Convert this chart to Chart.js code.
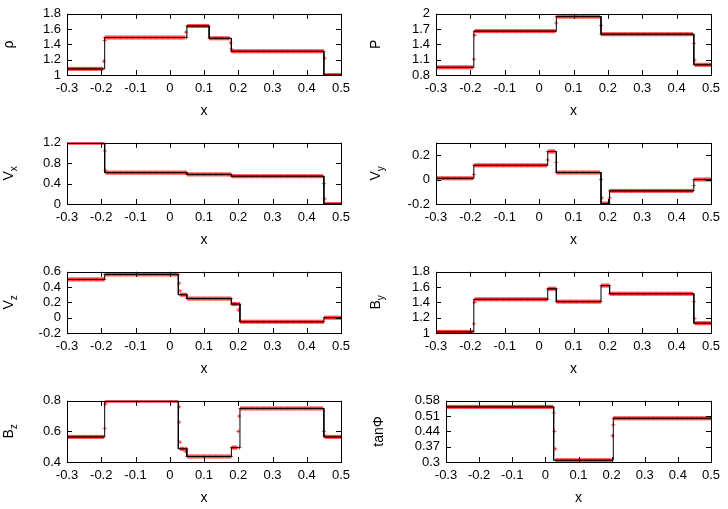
<!DOCTYPE html>
<html>
<head>
<meta charset="utf-8">
<script src="https://cdn.jsdelivr.net/npm/chart.js@4.4.0/dist/chart.umd.min.js"></script>
<style>
  html, body { margin: 0; padding: 0; background: #fff; overflow: hidden; }
  #wrap { position: relative; width: 728px; height: 509px; }
  #wrap canvas { position: absolute; }
</style>
</head>
<body>
<div id="wrap"></div>
<script>
// x axis shared by all panels
const X_MIN = -0.3, X_MAX = 0.5;
const X_TICKS = [-0.3, -0.2, -0.1, 0, 0.1, 0.2, 0.3, 0.4, 0.5];

// wave positions (fast, rotational, slow, contact, slow, rotational, fast)
const WAVES = [-0.19, 0.025, 0.05, 0.115, 0.18, 0.205, 0.45];

// plateau levels between the waves (8 regions, left to right)
const RHO  = [1.08, 1.49, 1.49, 1.64, 1.48, 1.31, 1.31, 1.0];
const PRES = [0.95, 1.66, 1.66, 1.945, 1.945, 1.60, 1.60, 1.0];
const VX   = [1.2, 0.615, 0.615, 0.58, 0.58, 0.545, 0.545, 0.0];
const VY   = [0.01, 0.116, 0.229, 0.057, 0.057, -0.196, -0.093, 0.0];
const VZ   = [0.5, 0.566, 0.30, 0.25, 0.25, 0.178, -0.053, 0.0];
const BY   = [1.015, 1.44, 1.578, 1.41, 1.41, 1.62, 1.513, 1.128];
const BZ   = [0.564, 0.8, 0.486, 0.436, 0.436, 0.494, 0.75, 0.564];
const TANPHI = [0.552, 0.552, 0.308, 0.308, 0.308, 0.308, 0.50, 0.50];

// numerical points sitting inside the jumps
const RHO_EDGE  = [[-0.1925, 1.18], [-0.19, 1.45], [0.0475, 1.56], [0.1775, 1.42], [0.18, 1.34], [0.4525, 1.22]];
const PRES_EDGE = [[-0.19, 1.11], [-0.1875, 1.58], [0.05, 1.82], [0.18, 1.77], [0.45, 1.42], [0.4525, 1.09]];
const VX_EDGE   = [[-0.19, 1.04], [-0.1875, 0.66], [0.45, 0.40], [0.4525, 0.10]];
const VY_EDGE   = [[-0.19, 0.04], [0.025, 0.16], [0.05, 0.14], [0.18, 0.0], [0.1825, -0.15], [0.205, -0.15], [0.45, -0.05]];
const VZ_EDGE   = [[0.0275, 0.45], [0.03, 0.35], [0.2, 0.1], [0.4525, 0.0]];
const BY_EDGE   = [[-0.19, 1.12], [-0.1875, 1.40], [0.45, 1.41], [0.4525, 1.19]];
const BZ_EDGE   = [[-0.19, 0.62], [-0.1875, 0.78], [0.0275, 0.76], [0.0275, 0.66], [0.03, 0.53], [0.045, 0.47],
                   [0.2, 0.6], [0.2025, 0.7], [0.45, 0.6], [0.4525, 0.57]];
const TANPHI_EDGE = [[0.025, 0.525], [0.0275, 0.44], [0.03, 0.36], [0.2025, 0.42], [0.205, 0.47]];

// cell spacing of the simulation grid
const CELL_DX = 0.0025;

const FONT = '"Liberation Sans", Arial, Helvetica, sans-serif';

const PANELS = [
  { main: 'ρ', sub: '', lv: RHO, edge: RHO_EDGE, min: 1, max: 1.8, ticks: [1, 1.2, 1.4, 1.6, 1.8] },
  { main: 'P', sub: '', lv: PRES, edge: PRES_EDGE, min: 0.8, max: 2, ticks: [0.8, 1.1, 1.4, 1.7, 2] },
  { main: 'V', sub: 'x', lv: VX, edge: VX_EDGE, min: 0, max: 1.2, ticks: [0, 0.4, 0.8, 1.2] },
  { main: 'V', sub: 'y', lv: VY, edge: VY_EDGE, min: -0.2, max: 0.3, ticks: [-0.2, 0, 0.2] },
  { main: 'V', sub: 'z', lv: VZ, edge: VZ_EDGE, min: -0.2, max: 0.6, ticks: [-0.2, 0, 0.2, 0.4, 0.6] },
  { main: 'B', sub: 'y', lv: BY, edge: BY_EDGE, min: 1, max: 1.8, ticks: [1, 1.2, 1.4, 1.6, 1.8] },
  { main: 'B', sub: 'z', lv: BZ, edge: BZ_EDGE, min: 0.4, max: 0.8, ticks: [0.4, 0.6, 0.8] },
  { main: 'tanΦ', sub: '', lv: TANPHI, edge: TANPHI_EDGE, min: 0.3, max: 0.58, ticks: [0.3, 0.37, 0.44, 0.51, 0.58] }
];

function regionOf(x){ let i = 0; while(i < WAVES.length && x > WAVES[i]) i++; return i; }

// exact solution as a step line through the plateau levels
function exactLine(lv){
  const pts = [{x: X_MIN, y: lv[0]}];
  WAVES.forEach((w, i) => { pts.push({x: w, y: lv[i]}); pts.push({x: w, y: lv[i+1]}); });
  pts.push({x: X_MAX, y: lv[lv.length-1]});
  return pts;
}

// numerical solution: plateau value at each cell, plus the points inside jumps
function cellPoints(lv, edge){
  const pts = [];
  for(let x = X_MIN + CELL_DX/2; x < X_MAX; x += CELL_DX){
    const near = edge.some(e => Math.abs(e[0] - x) < CELL_DX/2);
    if(!near) pts.push({x, y: lv[regionOf(x)]});
  }
  edge.forEach(e => pts.push({x: e[0], y: e[1]}));
  return pts;
}

const framePlugin = {
  id: 'frame',
  afterDatasetsDraw(chart){
    const {ctx, chartArea: a, scales} = chart;
    ctx.save();
    ctx.strokeStyle = '#000'; ctx.lineWidth = 1;
    ctx.strokeRect(Math.round(a.left)+0.5, Math.round(a.top)+0.5, Math.round(a.right-a.left), Math.round(a.bottom-a.top));
    const L = 5;
    ctx.beginPath();
    scales.x.ticks.forEach(t => {
      const px = Math.round(scales.x.getPixelForValue(t.value)) + 0.5;
      ctx.moveTo(px, a.bottom); ctx.lineTo(px, a.bottom - L);
      ctx.moveTo(px, a.top); ctx.lineTo(px, a.top + L);
    });
    scales.y.ticks.forEach(t => {
      const py = Math.round(scales.y.getPixelForValue(t.value)) + 0.5;
      ctx.moveTo(a.left, py); ctx.lineTo(a.left + L, py);
      ctx.moveTo(a.right, py); ctx.lineTo(a.right - L, py);
    });
    ctx.stroke();
    ctx.restore();
  },
  afterDraw(chart, args, o){
    const {ctx, chartArea: a} = chart;
    ctx.save();
    ctx.fillStyle = '#000';
    // x title
    ctx.font = '14px ' + FONT;
    ctx.textAlign = 'center'; ctx.textBaseline = 'middle';
    ctx.fillText('x', (a.left + a.right)/2, a.bottom + 36);
    // y title, rotated, with subscript
    ctx.translate(o.tx, (a.top + a.bottom)/2);
    ctx.rotate(-Math.PI/2);
    ctx.textAlign = 'left';
    ctx.font = '14px ' + FONT;
    const w1 = ctx.measureText(o.main).width;
    ctx.font = '10px ' + FONT;
    const w2 = o.sub ? ctx.measureText(o.sub).width : 0;
    const x0 = -(w1 + w2)/2;
    ctx.font = '14px ' + FONT;
    ctx.fillText(o.main, x0, 0);
    if(o.sub){ ctx.font = '10px ' + FONT; ctx.fillText(o.sub, x0 + w1, 5); }
    ctx.restore();
  }
};

const wrap = document.getElementById('wrap');
PANELS.forEach((p, k) => {
  const col = k % 2, row = Math.floor(k / 2);
  const cv = document.createElement('canvas');
  cv.style.left = (col * 364) + 'px';
  cv.style.top = (row * 129) + 'px';
  cv.style.width = '364px'; cv.style.height = '127px';
  cv.width = 364; cv.height = 127;
  wrap.appendChild(cv);
  const yw = col === 0 ? 67 : (k === 7 ? 82 : 72);
  const padR = col === 0 ? 23 : 17;
  new Chart(cv.getContext('2d'), {
    type: 'scatter',
    data: { datasets: [
      { data: exactLine(p.lv), showLine: true, borderColor: '#000', borderWidth: 1, pointRadius: 0, order: 0 },
      { data: cellPoints(p.lv, p.edge), pointStyle: 'cross', pointRadius: 2, borderWidth: 1,
        borderColor: 'rgba(255,0,0,0.75)', backgroundColor: 'rgba(255,0,0,0.75)', order: 1 }
    ]},
    options: {
      responsive: false, animation: false, devicePixelRatio: 1,
      layout: { padding: { top: 9, right: padR, left: 0, bottom: 0 } },
      plugins: { legend: { display: false }, tooltip: { enabled: false },
                 frame: { main: p.main, sub: p.sub, tx: col === 0 ? 9 : (k === 7 ? 15 : 12) } },
      scales: {
        x: { type: 'linear', min: X_MIN, max: X_MAX,
             afterBuildTicks: s => { s.ticks = X_TICKS.map(v => ({value: v})); },
             afterFit: s => { s.height = 52; },
             grid: { display: false, drawTicks: false }, border: { display: false },
             ticks: { padding: 6, color: '#000', font: { family: FONT, size: 13 },
                      callback: v => String(+v.toFixed(3)), maxRotation: 0, autoSkip: false } },
        y: { type: 'linear', min: p.min, max: p.max,
             afterBuildTicks: s => { s.ticks = p.ticks.map(v => ({value: v})); },
             afterFit: s => { s.width = yw; },
             grid: { display: false, drawTicks: false }, border: { display: false },
             ticks: { padding: 6, color: '#000', font: { family: FONT, size: 13 },
                      callback: v => String(+v.toFixed(3)), autoSkip: false } }
      }
    },
    plugins: [framePlugin]
  });
});
</script>
</body>
</html>
